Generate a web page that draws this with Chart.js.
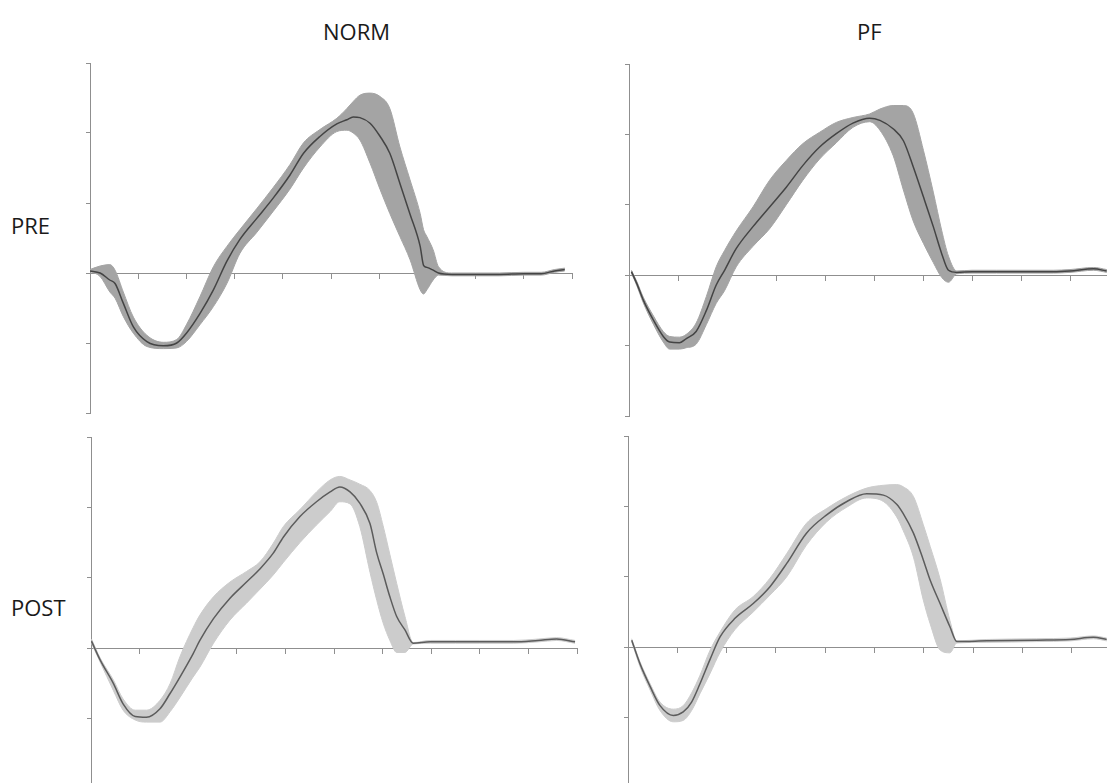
<!DOCTYPE html>
<html>
<head>
<meta charset="utf-8">
<title>NORM / PF — PRE / POST</title>
<script src="https://cdn.jsdelivr.net/npm/chart.js@4.4.1/dist/chart.umd.min.js"></script>
<style>
  html, body { margin: 0; padding: 0; background: #fff; }
  body { width: 1107px; height: 783px; overflow: hidden; position: relative; font-family: "Open Sans", sans-serif; }
  canvas { position: absolute; }
  .lbl { position: absolute; font-size: 22px; color: #1a1a1a; line-height: 1; white-space: nowrap; }
</style>
</head>
<body>
<div class="lbl" id="t-norm" style="left:323px; top:20px;">NORM</div>
<div class="lbl" id="t-pf" style="left:857px; top:20px;">PF</div>
<div class="lbl" id="t-pre" style="left:11px; top:214px;">PRE</div>
<div class="lbl" id="t-post" style="left:11px; top:596px;">POST</div>

<canvas id="c-norm-pre"  width="506" height="370" style="left:76px;  top:53px;"></canvas>
<canvas id="c-pf-pre"    width="514" height="372" style="left:615px; top:54px;"></canvas>
<canvas id="c-norm-post" width="510" height="372" style="left:77px;  top:427px;"></canvas>
<canvas id="c-pf-post"   width="517" height="372" style="left:614px; top:426px;"></canvas>

<script>
"use strict";

// ── Data: % of cycle (x) and mean / band limits (y) ───────────────── //
const normPreX     = [0, 2.1, 4.1, 5.2, 6.9, 9, 11.8, 15.2, 18, 20, 22.8, 25.6, 28.4, 31.1, 34.6, 38, 41.5, 44.3, 47.7, 51.2, 53.3, 54.6, 56, 58.1, 60.2, 62.2, 64.3, 66.4, 68.5, 69.2, 69.9, 71.2, 72.3, 75, 80, 85, 90, 93.6, 96.4, 98.5];
const normPreMean  = [0.03, 0.00, -0.10, -0.15, -0.43, -0.77, -0.98, -1.04, -1.00, -0.86, -0.58, -0.24, 0.17, 0.48, 0.78, 1.07, 1.40, 1.71, 1.95, 2.13, 2.19, 2.23, 2.22, 2.14, 1.95, 1.71, 1.28, 0.84, 0.38, 0.11, 0.08, 0.04, 0.00, -0.02, -0.02, -0.02, -0.01, -0.01, 0.03, 0.05];
const normPreUpper = [0.05, 0.10, 0.12, 0.04, -0.27, -0.63, -0.89, -0.99, -0.95, -0.74, -0.34, 0.09, 0.38, 0.62, 0.92, 1.22, 1.55, 1.86, 2.05, 2.21, 2.35, 2.45, 2.54, 2.57, 2.52, 2.35, 1.80, 1.33, 0.85, 0.62, 0.52, 0.33, 0.09, 0.00, 0.00, 0.00, 0.01, 0.01, 0.05, 0.07];
const normPreLower = [0.02, -0.05, -0.27, -0.36, -0.62, -0.86, -1.05, -1.08, -1.07, -0.98, -0.74, -0.48, -0.15, 0.28, 0.58, 0.88, 1.20, 1.50, 1.80, 2.02, 2.04, 2.00, 1.90, 1.57, 1.19, 0.85, 0.52, 0.19, -0.24, -0.30, -0.24, -0.10, -0.03, -0.04, -0.04, -0.04, -0.03, -0.03, 0.01, 0.03];

const pfPreX     = [0.5, 1.6, 2.9, 5, 7, 8.3, 10.3, 11.7, 13.7, 15.8, 17.8, 19.5, 21.9, 25.3, 28.7, 32.1, 35.5, 38.9, 42.3, 45.7, 49.1, 51.2, 53.9, 56, 58, 60.1, 62.1, 63.8, 65.2, 66.9, 70, 75, 80, 86.6, 90, 94.8, 97.5];
const pfPreMean  = [0.05, -0.12, -0.35, -0.64, -0.87, -0.95, -0.96, -0.90, -0.80, -0.50, -0.14, 0.07, 0.38, 0.69, 0.97, 1.25, 1.56, 1.82, 2.01, 2.16, 2.23, 2.20, 2.08, 1.91, 1.54, 1.11, 0.69, 0.31, 0.07, 0.04, 0.05, 0.05, 0.05, 0.05, 0.06, 0.09, 0.06];
const pfPreUpper = [0.07, -0.09, -0.31, -0.58, -0.80, -0.87, -0.88, -0.84, -0.68, -0.30, 0.12, 0.35, 0.63, 0.97, 1.35, 1.63, 1.87, 2.03, 2.17, 2.24, 2.29, 2.36, 2.41, 2.41, 2.30, 1.77, 1.18, 0.64, 0.27, 0.06, 0.07, 0.07, 0.07, 0.07, 0.08, 0.11, 0.08];
const pfPreLower = [0.03, -0.15, -0.39, -0.70, -0.95, -1.05, -1.05, -1.03, -0.98, -0.70, -0.40, -0.22, 0.12, 0.41, 0.66, 1.00, 1.35, 1.65, 1.88, 2.10, 2.18, 2.06, 1.70, 1.21, 0.77, 0.45, 0.18, -0.03, -0.10, 0.02, 0.03, 0.03, 0.03, 0.03, 0.04, 0.07, 0.04];

const normPostX     = [0.1, 1.9, 4.6, 6.6, 9.1, 11.4, 14.2, 16.3, 18.3, 21, 22.4, 25.2, 28.6, 32, 34.8, 37.5, 39.6, 43, 46.4, 49.2, 51.2, 53.3, 55.3, 57.4, 58.8, 60.1, 61.5, 62.9, 64.6, 66.3, 69.8, 75, 80, 87, 92, 95.8, 99.6];
const normPostMean  = [0.10, -0.17, -0.50, -0.79, -0.97, -0.98, -0.86, -0.64, -0.41, -0.08, 0.11, 0.42, 0.71, 0.94, 1.13, 1.35, 1.58, 1.87, 2.08, 2.22, 2.29, 2.22, 2.06, 1.77, 1.35, 1.06, 0.73, 0.45, 0.26, 0.07, 0.09, 0.09, 0.09, 0.09, 0.11, 0.13, 0.09];
const normPostUpper = [0.13, -0.14, -0.45, -0.72, -0.88, -0.88, -0.74, -0.50, -0.12, 0.29, 0.47, 0.73, 0.94, 1.09, 1.23, 1.49, 1.73, 1.97, 2.22, 2.39, 2.44, 2.39, 2.33, 2.24, 2.07, 1.74, 1.33, 0.92, 0.45, 0.08, 0.11, 0.11, 0.11, 0.11, 0.13, 0.15, 0.11];
const normPostLower = [0.07, -0.20, -0.60, -0.88, -1.02, -1.05, -1.05, -0.90, -0.70, -0.41, -0.27, 0.07, 0.40, 0.64, 0.84, 1.04, 1.22, 1.50, 1.75, 1.94, 2.08, 2.05, 1.73, 1.08, 0.68, 0.36, 0.11, -0.06, -0.06, 0.06, 0.07, 0.07, 0.07, 0.07, 0.09, 0.11, 0.07];

const pfPostX     = [0.75, 2.4, 4.5, 6.5, 9.2, 11.2, 12.9, 14.6, 16.6, 18.7, 21.7, 25.4, 28.8, 32.2, 36.2, 40.3, 44.4, 48.4, 51.8, 54.5, 55.8, 57.9, 59.9, 61.3, 63.3, 65.3, 66.7, 72.8, 82.9, 89.7, 94.4, 97.1];
const pfPostMean  = [0.10, -0.23, -0.56, -0.83, -0.97, -0.92, -0.78, -0.52, -0.18, 0.15, 0.41, 0.62, 0.86, 1.19, 1.62, 1.88, 2.07, 2.18, 2.16, 2.03, 1.90, 1.62, 1.24, 0.95, 0.62, 0.29, 0.08, 0.09, 0.10, 0.11, 0.14, 0.11];
const pfPostUpper = [0.12, -0.20, -0.52, -0.78, -0.88, -0.83, -0.65, -0.40, -0.05, 0.22, 0.53, 0.72, 0.98, 1.33, 1.76, 1.97, 2.14, 2.26, 2.30, 2.31, 2.28, 2.14, 1.74, 1.43, 0.97, 0.38, 0.09, 0.11, 0.12, 0.13, 0.16, 0.13];
const pfPostLower = [0.08, -0.27, -0.61, -0.90, -1.06, -1.04, -0.90, -0.66, -0.38, -0.07, 0.25, 0.50, 0.74, 1.00, 1.45, 1.78, 1.99, 2.12, 2.07, 1.85, 1.66, 1.28, 0.67, 0.33, -0.04, -0.08, 0.06, 0.07, 0.08, 0.09, 0.12, 0.09];

// ── Styling ───────────────────────────────────────────────────────── //
const X_MIN = 0, X_MAX = 100, X_STEP = 10;
const Y_MIN = -2, Y_MAX = 3, Y_STEP = 1;
const AXIS_COLOR = "#8f8f8f";
const PRE_BAND   = "#a4a4a4";
const POST_BAND  = "#cccccc";
const PRE_LINE   = "#444444";
const POST_LINE  = "#5c5c5c";

const pts = (xs, ys) => xs.map((x, i) => ({ x, y: ys[i] }));

function makePanel(id, xs, mean, upper, lower, bandColor, lineColor) {
  const ctx = document.getElementById(id).getContext("2d");
  return new Chart(ctx, {
    type: "line",
    data: {
      datasets: [
        {
          label: "mean",
          data: pts(xs, mean),
          borderColor: lineColor,
          borderWidth: 1.5,
          pointRadius: 0,
          fill: false,
          cubicInterpolationMode: "monotone",
        },
        {
          label: "upper",
          data: pts(xs, upper),
          borderColor: bandColor,
          borderWidth: 1,
          backgroundColor: bandColor,
          pointRadius: 0,
          fill: "+1",
          cubicInterpolationMode: "monotone",
        },
        {
          label: "lower",
          data: pts(xs, lower),
          borderColor: bandColor,
          borderWidth: 1,
          pointRadius: 0,
          fill: false,
          cubicInterpolationMode: "monotone",
        },
      ],
    },
    options: {
      responsive: false,
      devicePixelRatio: 1,
      animation: false,
      events: [],
      layout: { padding: { left: 10, right: 10, top: 10, bottom: 10 } },
      plugins: {
        legend: { display: false },
        tooltip: { enabled: false },
      },
      scales: {
        x: {
          type: "linear",
          position: { y: 0 },
          min: X_MIN,
          max: X_MAX,
          ticks: { display: false, stepSize: X_STEP },
          grid: { drawOnChartArea: false, drawTicks: true, tickLength: 5, color: AXIS_COLOR, lineWidth: 1 },
          border: { display: true, color: AXIS_COLOR, width: 1 },
        },
        y: {
          type: "linear",
          position: "left",
          min: Y_MIN,
          max: Y_MAX,
          ticks: { display: false, stepSize: Y_STEP },
          grid: { drawOnChartArea: false, drawTicks: true, tickLength: 4, color: AXIS_COLOR, lineWidth: 1 },
          border: { display: true, color: AXIS_COLOR, width: 1 },
        },
      },
    },
  });
}

// ── Init ───────────────────────────────────────────────────────────── //
makePanel("c-norm-pre",  normPreX,  normPreMean,  normPreUpper,  normPreLower,  PRE_BAND,  PRE_LINE);
makePanel("c-pf-pre",    pfPreX,    pfPreMean,    pfPreUpper,    pfPreLower,    PRE_BAND,  PRE_LINE);
makePanel("c-norm-post", normPostX, normPostMean, normPostUpper, normPostLower, POST_BAND, POST_LINE);
makePanel("c-pf-post",   pfPostX,   pfPostMean,   pfPostUpper,   pfPostLower,   POST_BAND, POST_LINE);
</script>
</body>
</html>
